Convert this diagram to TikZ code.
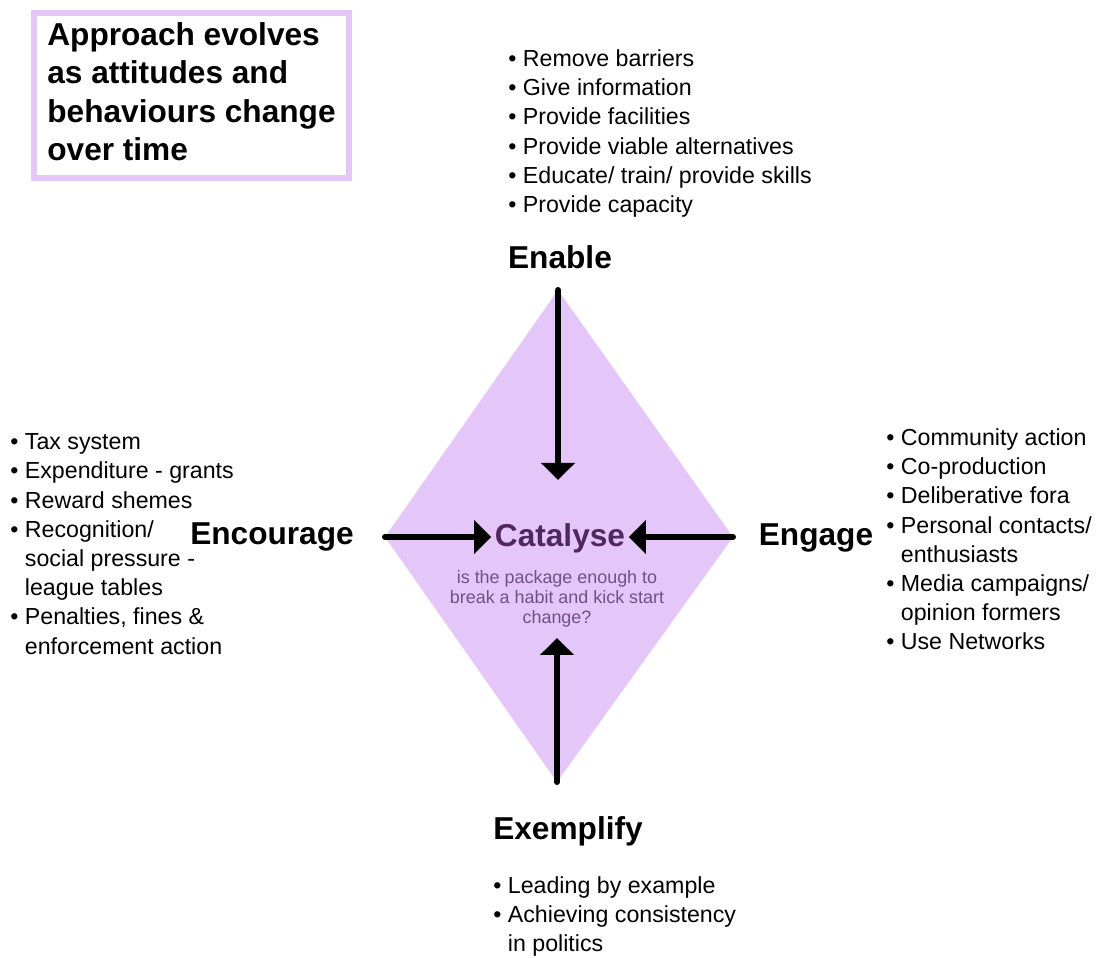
\documentclass[tikz,border=0pt]{standalone}
\usepackage{fontspec}
\setmainfont{Liberation Sans}
\usepackage{tikz}
\usetikzlibrary{arrows.meta,fit}
\definecolor{lilac}{RGB}{228,198,248}
\definecolor{plumtext}{RGB}{80,40,95}
\definecolor{plumsmall}{RGB}{115,80,130}
\newcommand\dotitem[1]{\textbullet\ #1}
\newcommand\dotcont[1]{\phantom{\textbullet\ }#1}

\begin{document}
\begin{tikzpicture}[
  heading/.style={anchor=base, inner sep=0, font=\fontsize{18}{21}\selectfont\bfseries},
  bullets/.style={anchor=north west, inner sep=0, align=left, font=\fontsize{13.2}{16.6}\selectfont},
  push/.style={line width=3.4pt, line cap=round, -{Triangle[width=0.66cm,length=0.34cm]}}
]
\useasboundingbox (0cm,0cm) rectangle (22.1cm,19.16cm);
% diamond
\coordinate (dtop) at (11.16cm,13.36cm);
\coordinate (dbot) at (11.14cm,3.52cm);
\coordinate (dleft) at (7.70cm,8.42cm);
\coordinate (dright) at (14.66cm,8.42cm);
\coordinate (toptip) at (11.16cm,9.56cm);
\coordinate (bottip) at (11.14cm,6.40cm);
\fill[lilac] (dtop) -- (dright) -- (dbot) -- (dleft) -- cycle;
% box top left
\node[anchor=north west, inner sep=0, align=left, font=\fontsize{18}{21.7}\selectfont\bfseries] (approach) at (0.94cm,18.71cm) {Approach evolves\\as attitudes and\\behaviours change\\over time};
\node[draw=lilac, line width=0.12cm, fit=(approach), inner xsep=0.27cm, inner ysep=0.26cm, yshift=-0.08cm] (approachbox) {};
% centre
\node[heading, inner sep=2pt, text=plumtext] (catalyse) at (11.2cm,8.22cm) {Catalyse};
\node[anchor=north, inner sep=0, align=center, text=plumsmall, font=\fontsize{10.2}{11.4}\selectfont] (question) at (11.14cm,7.76cm) {is the package enough to\\break a habit and kick start\\change?};
% headings
\node[heading] (enable) at (11.2cm,13.78cm) {Enable};
\node[heading] (encourage) at (5.44cm,8.26cm) {Encourage};
\node[heading] (engage) at (16.32cm,8.24cm) {Engage};
\node[heading] (exemplify) at (11.36cm,2.36cm) {Exemplify};
% lists
\node[bullets] (enablelist) at (10.16cm,18.17cm) {\dotitem{Remove barriers}\\\dotitem{Give information}\\\dotitem{Provide facilities}\\\dotitem{Provide viable alternatives}\\\dotitem{Educate/ train/ provide skills}\\\dotitem{Provide capacity}};
\node[bullets] (encouragelist) at (0.2cm,10.49cm) {\dotitem{Tax system}\\\dotitem{Expenditure - grants}\\\dotitem{Reward shemes}\\\dotitem{Recognition/}\\\dotcont{social pressure -}\\\dotcont{league tables}\\\dotitem{Penalties, fines \&}\\\dotcont{enforcement action}};
\node[bullets] (engagelist) at (17.72cm,10.59cm) {\dotitem{Community action}\\\dotitem{Co-production}\\\dotitem{Deliberative fora}\\\dotitem{Personal contacts/}\\\dotcont{enthusiasts}\\\dotitem{Media campaigns/}\\\dotcont{opinion formers}\\\dotitem{Use Networks}};
\node[bullets] (exemplifylist) at (9.86cm,1.63cm) {\dotitem{Leading by example}\\\dotitem{Achieving consistency}\\\dotcont{in politics}};
% arrows
\draw[push] (dtop) -- (toptip);
\draw[push] (dbot) -- (bottip);
\draw[push] (dleft) -- (dleft -| catalyse.west);
\draw[push] (dright) -- (dright -| catalyse.east);
\end{tikzpicture}
\end{document}
